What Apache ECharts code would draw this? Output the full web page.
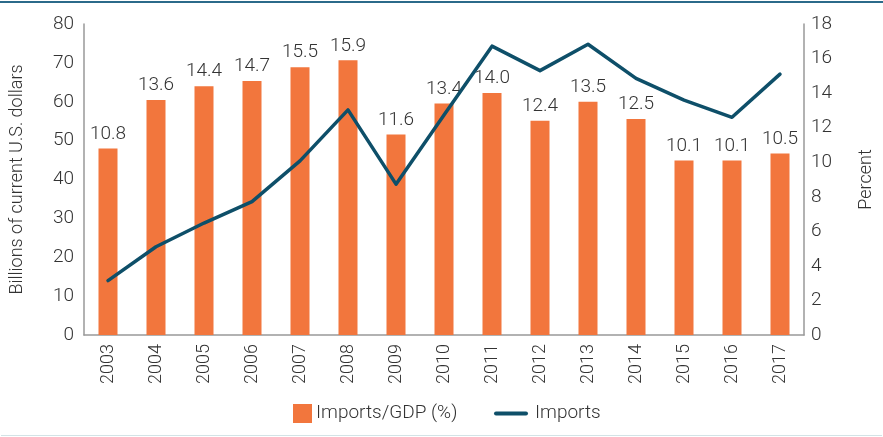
<!DOCTYPE html>
<html>
<head>
<meta charset="utf-8">
<title>Imports</title>
<script src="https://cdn.jsdelivr.net/npm/echarts@6/dist/echarts.min.js"></script>
<style>
  html, body { margin: 0; padding: 0; background: #fff; }
  #chart { width: 883px; height: 437px; }
</style>
</head>
<body>
<div id="chart"></div>
<script>
// data
var years = ['2003', '2004', '2005', '2006', '2007', '2008', '2009', '2010',
             '2011', '2012', '2013', '2014', '2015', '2016', '2017'];
var importsGdp = [10.8, 13.6, 14.4, 14.7, 15.5, 15.9, 11.6, 13.4, 14.0, 12.4, 13.5, 12.5, 10.1, 10.1, 10.5];
var imports = [14.0, 22.7, 28.8, 34.3, 44.8, 57.9, 38.8, 56.6, 74.3, 68.0, 74.8, 66.0, 60.4, 56.0, 67.1];

var font = 'Roboto';
var txt = '#333333';
var fw = 300;

var chart = echarts.init(document.getElementById('chart'));
var option = {
    animation: false,
    textStyle: { fontFamily: font, color: txt, fontWeight: fw },
    grid: { left: 79, right: 73, top: 24, bottom: 102 },
    graphic: [
        { type: 'rect', shape: { x: 0, y: 1, width: 883, height: 2 }, style: { fill: '#2b6a8a' } },
        { type: 'rect', shape: { x: 1, y: 435, width: 881, height: 1 }, style: { fill: '#d3e3e6' } }
    ],
    legend: [
        {
            data: ['Imports/GDP (%)'],
            left: 293, top: 404, padding: 0,
            itemWidth: 19, itemHeight: 19, itemGap: 6,
            icon: 'rect',
            textStyle: { fontFamily: font, fontWeight: fw, fontSize: 19, color: txt, padding: [0, 0, 0, -1] }
        },
        {
            data: ['Imports'],
            left: 494, top: 404, padding: 0,
            itemWidth: 34, itemHeight: 19,
            icon: 'path://M2,8 h30 a2,2 0 0 1 0,4 h-30 a2,2 0 0 1 0,-4 z',
            textStyle: { fontFamily: font, fontWeight: fw, fontSize: 19, color: txt, padding: [0, 0, 0, 2] }
        }
    ],
    xAxis: {
        type: 'category',
        data: years,
        axisLine: { lineStyle: { color: '#999', width: 1.5 } },
        axisTick: { show: false },
        axisLabel: { rotate: 90, fontSize: 18, fontWeight: fw, color: txt, margin: 9 }
    },
    yAxis: [
        {
            type: 'value', min: 0, max: 80, interval: 10,
            name: 'Billions of current U.S. dollars',
            nameLocation: 'middle', nameGap: 58, nameRotate: 90,
            nameTextStyle: { fontSize: 18, fontWeight: fw, color: txt },
            axisLine: { show: true, lineStyle: { color: '#999', width: 1.5 } },
            axisTick: { show: false },
            splitLine: { show: false },
            axisLabel: { fontSize: 19, fontWeight: fw, color: txt, margin: 10 }
        },
        {
            type: 'value', min: 0, max: 18, interval: 2,
            name: 'Percent',
            nameLocation: 'middle', nameGap: 53, nameRotate: 90,
            nameTextStyle: { fontSize: 18, fontWeight: fw, color: txt },
            axisLine: { show: true, lineStyle: { color: '#999', width: 1.5 } },
            axisTick: { show: false },
            splitLine: { show: false },
            axisLabel: { fontSize: 19, fontWeight: fw, color: txt, margin: 7 }
        }
    ],
    series: [
        {
            name: 'Imports/GDP (%)',
            type: 'bar',
            yAxisIndex: 1,
            data: importsGdp,
            barWidth: 19,
            itemStyle: { color: '#f2763d' },
            label: {
                show: true, position: 'top', distance: 5,
                fontSize: 19, fontWeight: fw, color: txt, fontFamily: font,
                formatter: function (p) { return p.value.toFixed(1); }
            }
        },
        {
            name: 'Imports',
            type: 'line',
            yAxisIndex: 0,
            data: imports,
            symbol: 'none',
            lineStyle: { color: '#0e4f69', width: 3.5, cap: 'round', join: 'round' },
            itemStyle: { color: '#0e4f69' },
            z: 3
        }
    ]
};
chart.setOption(option);
</script>
</body>
</html>
